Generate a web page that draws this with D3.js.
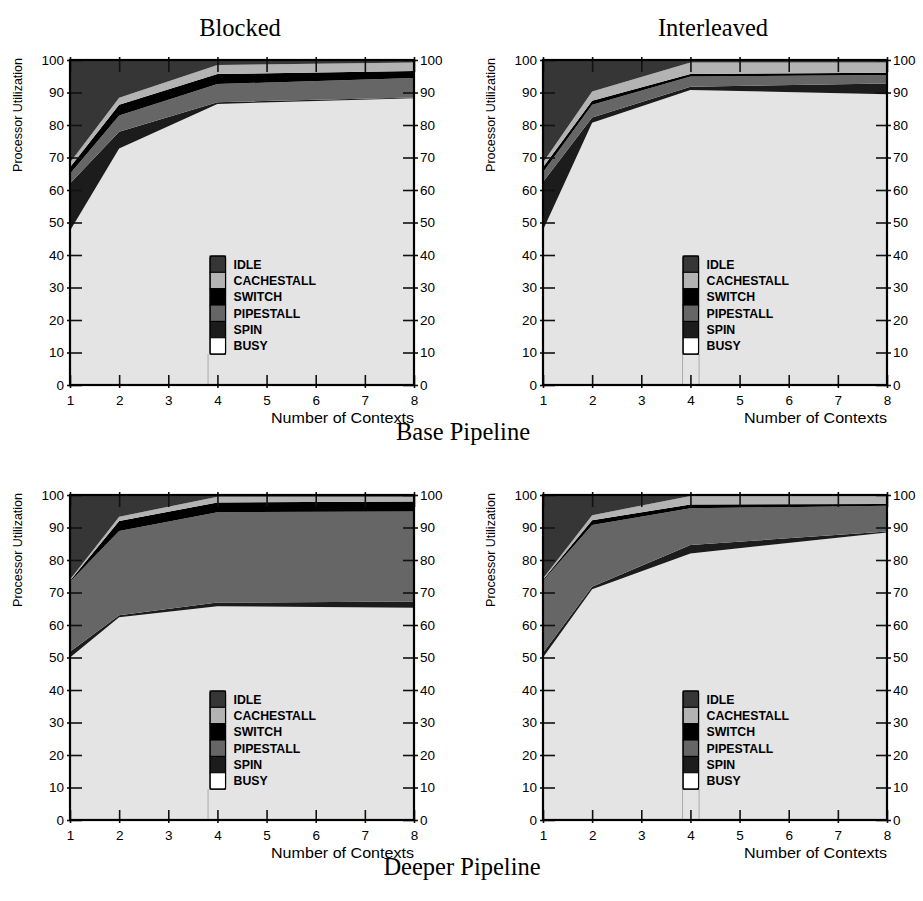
<!DOCTYPE html>
<html>
<head>
<meta charset="utf-8">
<script src="https://cdn.jsdelivr.net/npm/d3@7"></script>
<style>
  body { margin: 0; background: #fff; }
  text { font-family: "Liberation Sans", Arial, sans-serif; }
  .title { font-family: "Liberation Serif", "Times New Roman", serif; font-size: 24.5px; }
</style>
</head>
<body>
<svg id="chart" width="923" height="901"></svg>
<script>
var contexts = [1, 2, 4, 8];
var components = ["BUSY", "SPIN", "PIPESTALL", "SWITCH", "CACHESTALL", "IDLE"];
var xTicks = [1, 2, 3, 4, 5, 6, 7, 8];
var yTicks = [0, 10, 20, 30, 40, 50, 60, 70, 80, 90, 100];

// one row per context, values in the order of components
var blockedBase = [
    [47.5, 14.5, 3.0, 2.0, 1.5, 31.5],
    [72.8, 5.1, 5.0, 3.3, 2.2, 11.6],
    [86.5, 0.5, 5.6, 3.1, 2.8, 1.5],
    [88.2, 0.3, 6.0, 2.1, 2.6, 0.8]
];
var interleavedBase = [
    [47.7, 14.8, 3.0, 1.5, 1.5, 31.5],
    [80.7, 1.6, 3.9, 1.3, 2.8, 9.7],
    [90.8, 1.0, 3.1, 0.8, 3.5, 0.8],
    [89.5, 3.3, 2.6, 0.7, 3.1, 0.8]
];
var blockedDeep = [
    [50.0, 1.8, 21.5, 0.3, 0.4, 26.0],
    [62.4, 0.6, 25.9, 3.1, 1.3, 6.7],
    [65.8, 1.1, 27.8, 3.0, 1.8, 0.5],
    [65.3, 1.9, 27.7, 3.1, 1.5, 0.5]
];
var interleavedDeep = [
    [50.0, 1.5, 22.1, 0.3, 0.4, 25.7],
    [71.0, 0.8, 19.0, 1.4, 1.6, 6.2],
    [82.0, 2.6, 11.3, 1.2, 2.6, 0.3],
    [88.5, 0.3, 7.9, 0.5, 2.5, 0.3]
];

var areaColors = {BUSY: "#e4e4e4", SPIN: "#1c1c1c", PIPESTALL: "#666666", SWITCH: "#000000", CACHESTALL: "#b3b3b3", IDLE: "#363636"};
var swatchColors = {BUSY: "#ffffff", SPIN: "#1c1c1c", PIPESTALL: "#666666", SWITCH: "#000000", CACHESTALL: "#b3b3b3", IDLE: "#363636"};

var plotW = 344, plotH = 325;
var svg = d3.select("#chart");

var panels = [
    {title: "Blocked", rows: blockedBase, left: 70, top: 60, lines: 1},
    {title: "Interleaved", rows: interleavedBase, left: 543, top: 60, lines: 2},
    {title: null, rows: blockedDeep, left: 70, top: 495, lines: 1},
    {title: null, rows: interleavedDeep, left: 543, top: 495, lines: 2}
];

function drawPanel(p) {
    var g = svg.append("g").attr("transform", "translate(" + p.left + "," + p.top + ")");

    var x = d3.scaleLinear().domain([1, 8]).range([0, plotW]);
    var y = d3.scaleLinear().domain([0, 100]).range([plotH, 0]);

    var table = p.rows.map(function(r, i) {
        var o = {n: contexts[i]};
        components.forEach(function(c, j) { o[c] = r[j]; });
        return o;
    });
    var series = d3.stack().keys(components)(table);

    var area = d3.area()
        .x(function(d) { return x(d.data.n); })
        .y0(function(d) { return y(d[0]); })
        .y1(function(d) { return y(Math.min(d[1], 100)); });

    g.selectAll("path.layer")
        .data(series)
        .enter().append("path")
        .attr("class", "layer")
        .attr("fill", function(d) { return areaColors[d.key]; })
        .attr("d", area);

    // legend, sitting inside the plot
    var lx = x(3.85), ly0 = y(39.7), ly1 = y(9.5);
    var sw = 15.5, sh = (ly1 - ly0) / components.length;
    var legendOrder = components.slice().reverse();

    if (p.lines == 1) {
        g.append("line").attr("x1", lx - 2).attr("x2", lx - 2).attr("y1", ly1).attr("y2", plotH)
            .attr("stroke", "#999").attr("stroke-width", 0.8);
    } else {
        [lx - 0.5, lx + sw + 0.5].forEach(function(v) {
            g.append("line").attr("x1", v).attr("x2", v).attr("y1", ly1).attr("y2", plotH)
                .attr("stroke", "#999").attr("stroke-width", 0.8);
        });
    }

    var leg = g.append("g");
    leg.selectAll("rect")
        .data(legendOrder)
        .enter().append("rect")
        .attr("x", lx).attr("y", function(d, i) { return ly0 + i * sh; })
        .attr("width", sw).attr("height", sh)
        .attr("fill", function(d) { return swatchColors[d]; })
        .attr("stroke", "#000").attr("stroke-width", 1);
    leg.append("rect")
        .attr("x", lx).attr("y", ly0).attr("width", sw).attr("height", ly1 - ly0)
        .attr("rx", 2).attr("fill", "none").attr("stroke", "#000").attr("stroke-width", 1.2);
    leg.selectAll("text")
        .data(legendOrder)
        .enter().append("text")
        .attr("x", lx + sw + 8).attr("y", function(d, i) { return ly0 + i * sh + sh / 2; })
        .attr("dy", "0.36em")
        .style("font-size", "12.3px").style("font-weight", "bold")
        .text(function(d) { return d; });

    // axes: ticks point inwards
    var yl = g.append("g").call(d3.axisLeft(y).tickValues(yTicks).tickSizeInner(-12).tickSizeOuter(0).tickPadding(6));
    var yr = g.append("g").attr("transform", "translate(" + plotW + ",0)")
        .call(d3.axisRight(y).tickValues(yTicks).tickSizeInner(-11).tickSizeOuter(0).tickPadding(6));
    var xb = g.append("g").attr("transform", "translate(0," + plotH + ")")
        .call(d3.axisBottom(x).tickValues(xTicks).tickFormat(d3.format("d")).tickSizeInner(-10).tickSizeOuter(0).tickPadding(8));
    var xt = g.append("g")
        .call(d3.axisTop(x).tickValues(xTicks).tickSizeInner(-12).tickSizeOuter(0).tickFormat(""));

    yl.selectAll(".tick line").attr("x1", -3);
    yr.selectAll(".tick line").attr("x1", 4);
    xb.selectAll(".tick line").attr("y1", 3);
    xt.selectAll(".tick line").attr("y1", -3);

    [yl, yr, xb, xt].forEach(function(a) {
        a.select(".domain").remove();
        a.selectAll(".tick line").attr("stroke", "#111").attr("stroke-width", 1.6);
        a.selectAll(".tick text").attr("fill", "#000").style("font-size", "13.5px");
    });
    xb.selectAll(".tick text").attr("dy", "0.9em");

    g.append("rect").attr("width", plotW).attr("height", plotH)
        .attr("fill", "none").attr("stroke", "#000").attr("stroke-width", 2.2);

    g.append("text")
        .attr("transform", "translate(-48,-2) rotate(-90)")
        .attr("text-anchor", "end")
        .style("font-size", "12.5px")
        .text("Processor Utilization");

    g.append("text")
        .attr("x", plotW).attr("y", plotH + 38)
        .attr("text-anchor", "end")
        .attr("textLength", 143).attr("lengthAdjust", "spacingAndGlyphs")
        .style("font-size", "14px")
        .text("Number of Contexts");

    if (p.title) {
        svg.append("text").attr("class", "title")
            .attr("x", p.left + plotW / 2 - 2).attr("y", 36)
            .attr("text-anchor", "middle")
            .text(p.title);
    }
}

panels.forEach(drawPanel);

svg.append("text").attr("class", "title").attr("x", 463).attr("y", 440)
    .attr("text-anchor", "middle").text("Base Pipeline");
svg.append("text").attr("class", "title").attr("x", 462).attr("y", 875)
    .attr("text-anchor", "middle").text("Deeper Pipeline");
</script>
</body>
</html>
